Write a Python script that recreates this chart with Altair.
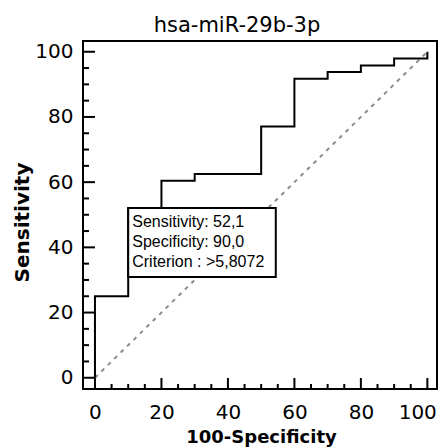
import altair as alt
import pandas as pd

# ROC step curve (100-Specificity, Sensitivity)
fpr = [0, 0, 10, 20, 30, 50, 60, 70, 80, 90, 100]
tpr = [0, 25.0, 52.1, 60.4, 62.5, 77.1, 91.7, 93.8, 95.8, 97.9, 100]
diag_x = [0, 100]
diag_y = [0, 100]
major_ticks = [0, 20, 40, 60, 80, 100]
minor_ticks = [5, 10, 15, 25, 30, 35, 45, 50, 55, 65, 70, 75, 85, 90, 95]
box_x = [10, 54.4]
box_y = [52.1, 30.9]
box_lines = ["Sensitivity: 52,1", "Specificity: 90,0", "Criterion : >5,8072"]

xs = alt.Scale(domain=[-3.6, 102.9], nice=False, zero=False)
ys = alt.Scale(domain=[-3.45, 103.3], nice=False, zero=False)

roc_df = pd.DataFrame({"fpr": fpr, "tpr": tpr, "i": list(range(len(fpr)))})
diag_df = pd.DataFrame({"fpr": diag_x, "tpr": diag_y})

x_axis = alt.Axis(values=major_ticks, ticks=False, domain=False, grid=False,
                  labelFont="DejaVu Sans", labelFontSize=20, labelColor="black",
                  labelPadding=13,
                  labelAlign={"expr": "datum.value == 100 ? 'right' : 'center'"},
                  labelOffset={"expr": "datum.value == 100 ? 9 : 0"},
                  title="100-Specificity", titleFont="DejaVu Sans",
                  titleFontSize=18, titleFontWeight="bold", titleColor="black",
                  titleX=178, titleY=53, titleAlign="center", titleBaseline="alphabetic")
y_axis = alt.Axis(values=major_ticks, ticks=False, domain=False, grid=False,
                  labelFont="DejaVu Sans", labelFontSize=20, labelColor="black",
                  labelPadding=10, title="Sensitivity", titleFont="DejaVu Sans",
                  titleFontSize=20, titleFontWeight="bold", titleColor="black",
                  titleAngle=270, titleX=-55, titleY=181, titleAlign="center",
                  titleBaseline="alphabetic")


def X(f):
    return alt.X(f, scale=xs, axis=x_axis)


def Y(f):
    return alt.Y(f, scale=ys, axis=y_axis)


diag = alt.Chart(diag_df).mark_line(color="#8c8c8c", strokeWidth=2, strokeDash=[4, 5]).encode(
    x=X("fpr:Q"), y=Y("tpr:Q"),
)

roc = alt.Chart(roc_df).mark_line(color="black", strokeWidth=2, interpolate="step-after",
                                  strokeJoin="miter").encode(
    x=X("fpr:Q"), y=Y("tpr:Q"), order="i:Q",
)

box_df = pd.DataFrame({"fpr": [box_x[0]], "x2": [box_x[1]], "tpr": [box_y[0]], "y2": [box_y[1]],
                       "t": ["\n".join(box_lines)]})
box = alt.Chart(box_df).mark_rect(fill="white", stroke="black", strokeWidth=2).encode(
    x=X("fpr:Q"), x2="x2:Q", y=Y("tpr:Q"), y2="y2:Q",
)
txt = alt.Chart(box_df).mark_text(align="left", baseline="alphabetic", dx=4, dy=19,
                                  lineBreak="\n", lineHeight=20, font="Liberation Sans",
                                  fontSize=16, color="black").encode(
    x=X("fpr:Q"), y=Y("tpr:Q"), text="t:N",
)

maj_df = pd.DataFrame({"fpr": major_ticks, "tpr": major_ticks})
min_df = pd.DataFrame({"fpr": minor_ticks, "tpr": minor_ticks})

ytick_maj = alt.Chart(maj_df).mark_rule(color="black", strokeWidth=2).encode(
    y=Y("tpr:Q"), x=alt.value(0), x2=alt.value(12))
ytick_min = alt.Chart(min_df).mark_rule(color="black", strokeWidth=2).encode(
    y=Y("tpr:Q"), x=alt.value(0), x2=alt.value(6))
xtick_maj = alt.Chart(maj_df).mark_rule(color="black", strokeWidth=2).encode(
    x=X("fpr:Q"), y=alt.value(348), y2=alt.value(337))
xtick_min = alt.Chart(min_df).mark_rule(color="black", strokeWidth=2).encode(
    x=X("fpr:Q"), y=alt.value(348), y2=alt.value(343))

chart = alt.layer(diag, roc, box, txt, ytick_maj, ytick_min, xtick_maj, xtick_min).properties(
    width=354, height=348,
    autosize=alt.AutoSizeParams(type="none"),
    padding={"left": 75, "top": 33, "right": 1, "bottom": 59},
    background="white",
    title=alt.TitleParams(text="hsa-miR-29b-3p", font="DejaVu Sans", fontSize=21,
                          fontWeight="normal", color="black", anchor="middle",
                          frame="group", dx=-23, baseline="alphabetic", offset=-12),
).configure_view(stroke="black", strokeWidth=2)

chart.save("out.html", embed_options={"renderer": "svg", "actions": False})
